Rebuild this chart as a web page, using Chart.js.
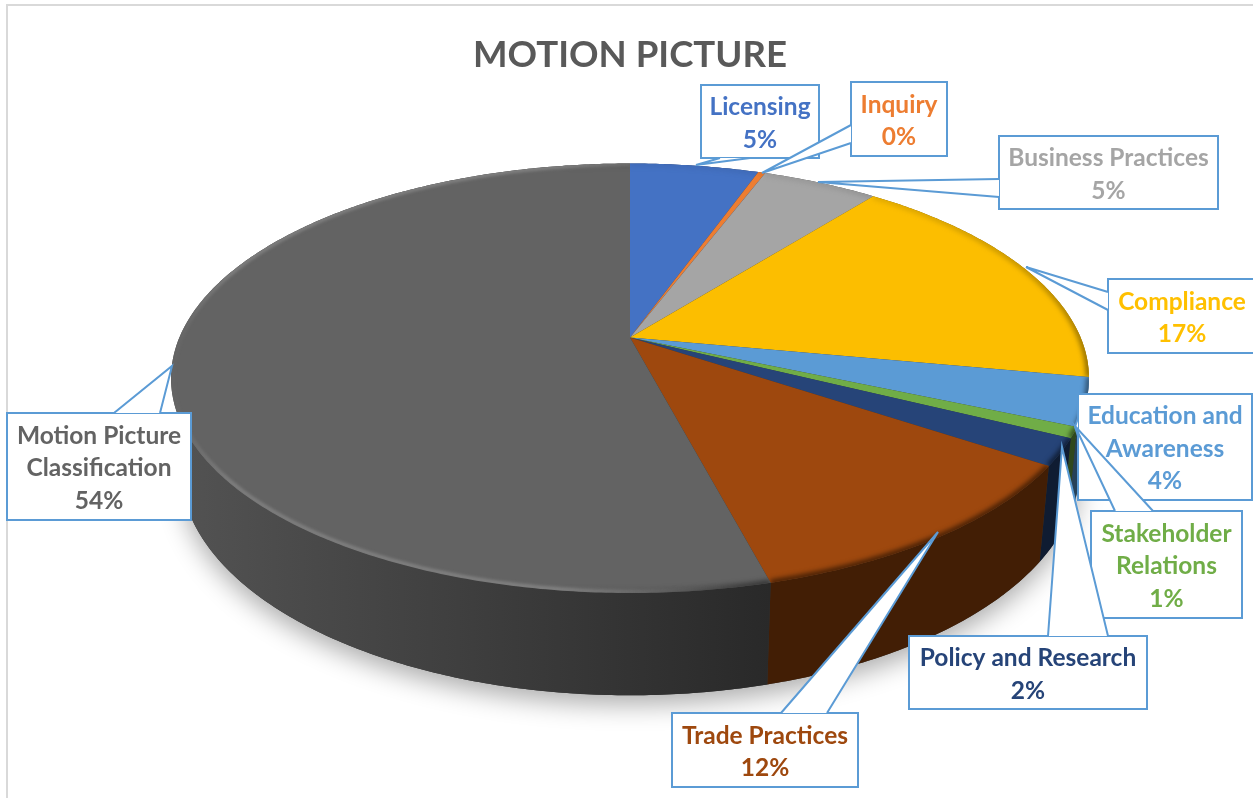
<!DOCTYPE html>
<html>
<head>
<meta charset="utf-8">
<style>
  html, body { margin: 0; padding: 0; background: #fff; overflow: hidden; }
  canvas { display: block; }
</style>
<script src="https://cdn.jsdelivr.net/npm/chart.js@4/dist/chart.umd.min.js"></script>
</head>
<body>
<canvas id="chart" width="1253" height="798"></canvas>
<script>
const categories = ['Licensing', 'Inquiry', 'Business Practices', 'Compliance',
  'Education and Awareness', 'Stakeholder Relations', 'Policy and Research',
  'Trade Practices', 'Motion Picture Classification'];
const shares = [5.45, 0.3, 4.9, 17.3, 3.6, 0.8, 2.03, 11.52, 54.1];
const sliceColors = ['#4472c4', '#ed7d31', '#a5a5a5', '#fcbe00', '#5b9bd5',
  '#70ad47', '#264478', '#9e480e', '#636363'];
const textColors = ['#4472c4', '#ed7d31', '#a5a5a5', '#ffc000', '#5b9bd5',
  '#70ad47', '#264478', '#9e480e', '#636363'];

// callout boxes: l, t, r, b, then the tip and the two wedge base points
const callouts = [
  [701, 85, 819, 158, [696, 165], [720, 158], [750, 158]],
  [851, 82, 947, 156, [762, 173], [851, 125], [851, 143]],
  [999, 136, 1218, 209, [818, 182], [999, 179], [999, 197]],
  [1108, 279, 1256, 353, [1026, 267], [1108, 292], [1108, 310]],
  [1078, 394, 1252, 500, [1075, 427], [1078, 418], [1078, 436]],
  [1091, 511, 1242, 618, [1075, 426], [1115, 511], [1153, 511]],
  [909, 636, 1147, 709, [1062, 447], [1048, 636], [1108, 636]],
  [672, 713, 858, 787, [938, 532], [781, 713], [827, 713]],
  [7, 413, 191, 520, [172, 366], [114, 413], [160, 413]],
];

// perspective of the disc
const RX = 450.6, RY = 207, TILT = -0.19, DROP = 90, SHRINK = 0.02;

function project(arc, a, z, s) {
  const u = Math.cos(a) * s, v = Math.sin(a) * s;
  const w = 1 + TILT * v + SHRINK * z;
  return [arc.x + RX * u / w, arc.y + (RY * v + DROP * z) / w];
}

function rimPoints(arc, a0, a1, z, s) {
  const n = Math.max(2, Math.ceil((a1 - a0) / 0.01));
  const pts = [];
  for (let i = 0; i <= n; i++) pts.push(project(arc, a0 + (a1 - a0) * i / n, z, s));
  return pts;
}

function trace(ctx, pts, start) {
  pts.forEach((p, i) => (i === 0 && start ? ctx.moveTo(p[0], p[1]) : ctx.lineTo(p[0], p[1])));
}

function shade(hex, f, alpha) {
  const n = parseInt(hex.slice(1), 16);
  return `rgba(${(n >> 16) * f | 0},${((n >> 8) & 255) * f | 0},${(n & 255) * f | 0},${alpha === undefined ? 1 : alpha})`;
}

class Arc3D extends Chart.ArcElement {
  static id = 'arc3d';
  draw(ctx) {
    const color = this.options.backgroundColor;
    const big = this.endAngle - this.startAngle > Math.PI;
    const rim = rimPoints(this, this.startAngle, this.endAngle, 0, 1);
    ctx.save();
    ctx.beginPath();
    ctx.moveTo(this.x, this.y);
    trace(ctx, rim, false);
    ctx.closePath();
    ctx.fillStyle = color;
    ctx.fill();
    ctx.clip();

    // soft bevel along the rim, stronger towards the front
    let dark;
    if (big) {
      dark = ctx.createLinearGradient(560, 0, 770, 0);
      dark.addColorStop(0, shade(color, 0.5, 0));
      dark.addColorStop(1, shade(color, 0.5, 1));
    } else {
      dark = ctx.createLinearGradient(0, 165, 0, 420);
      dark.addColorStop(0, shade(color, 0.6, 0.15));
      dark.addColorStop(1, shade(color, 0.42, 1));
    }
    ctx.filter = 'blur(2.5px)';
    ctx.strokeStyle = dark;
    ctx.lineWidth = 6;
    ctx.beginPath();
    trace(ctx, rim, true);
    ctx.stroke();

    if (big) {
      const glow = ctx.createLinearGradient(170, 0, 770, 0);
      glow.addColorStop(0, 'rgba(150,150,150,0)');
      glow.addColorStop(0.1, 'rgba(150,150,150,0.55)');
      glow.addColorStop(0.65, 'rgba(150,150,150,0.6)');
      glow.addColorStop(0.95, 'rgba(150,150,150,0)');
      ctx.filter = 'blur(1.5px)';
      ctx.strokeStyle = glow;
      ctx.lineWidth = 4;
      ctx.beginPath();
      trace(ctx, rimPoints(this, this.startAngle, this.endAngle, 0, 0.996), true);
      ctx.stroke();
    }
    ctx.restore();
  }
}

class Pie3DController extends Chart.PieController {
  static id = 'pie3d';
  static defaults = { dataElementType: 'arc3d' };
}

Chart.register(Arc3D, Pie3DController);

// frame lines, then floor shadow and side wall under the slices
const frame = {
  id: 'frame',
  beforeDraw(chart) {
    const ctx = chart.ctx;
    ctx.save();
    ctx.strokeStyle = '#d9d9d9';
    ctx.lineWidth = 2;
    ctx.beginPath();
    ctx.moveTo(7, 798);
    ctx.lineTo(7, 5);
    ctx.lineTo(1253, 5);
    ctx.stroke();
    ctx.restore();
  }
};

const body = {
  id: 'body',
  beforeDatasetsDraw(chart) {
    const ctx = chart.ctx;
    const arcs = chart.getDatasetMeta(0).data;
    const a0 = arcs[0].startAngle;

    ctx.save();
    ctx.shadowColor = 'rgba(0,0,0,0.33)';
    ctx.shadowBlur = 26;
    ctx.shadowOffsetY = 9;
    ctx.fillStyle = '#333';
    ctx.beginPath();
    trace(ctx, rimPoints(arcs[0], a0, a0 + Math.PI * 2, 1, 1), true);
    ctx.closePath();
    ctx.fill();
    ctx.restore();

    arcs.forEach(arc => {
      const color = arc.options.backgroundColor;
      const wall = ctx.createLinearGradient(175, 0, 770, 0);
      wall.addColorStop(0, shade(color, 0.84));
      wall.addColorStop(1, shade(color, 0.42));
      ctx.fillStyle = wall;
      ctx.beginPath();
      trace(ctx, rimPoints(arc, arc.startAngle, arc.endAngle, 0, 1), true);
      trace(ctx, rimPoints(arc, arc.startAngle, arc.endAngle, 1, 1).reverse(), false);
      ctx.closePath();
      ctx.fill();
    });
  }
};

function wrapLabel(ctx, text, maxWidth) {
  const lines = [];
  let line = '';
  text.split(' ').forEach(word => {
    const next = line ? line + ' ' + word : word;
    if (line && ctx.measureText(next).width > maxWidth) {
      lines.push(line);
      line = word;
    } else {
      line = next;
    }
  });
  lines.push(line);
  return lines;
}

const labels = {
  id: 'labels',
  afterDatasetsDraw(chart) {
    const ctx = chart.ctx;
    const total = shares.reduce((a, b) => a + b, 0);
    ctx.save();
    ctx.lineJoin = 'miter';
    categories.forEach((name, i) => {
      const [l, t, r, b, tip, p, q] = callouts[i];
      ctx.fillStyle = '#fff';
      ctx.strokeStyle = '#5b9bd5';
      ctx.lineWidth = 2;
      ctx.fillRect(l, t, r - l, b - t);
      ctx.strokeRect(l, t, r - l, b - t);
      ctx.beginPath();
      ctx.moveTo(p[0], p[1]);
      ctx.lineTo(tip[0], tip[1]);
      ctx.lineTo(q[0], q[1]);
      ctx.closePath();
      ctx.fill();
      ctx.beginPath();
      ctx.moveTo(p[0], p[1]);
      ctx.lineTo(tip[0], tip[1]);
      ctx.lineTo(q[0], q[1]);
      ctx.stroke();

      ctx.font = 'bold 24.5px Lato';
      ctx.textAlign = 'center';
      ctx.textBaseline = 'middle';
      ctx.fillStyle = textColors[i];
      const lines = wrapLabel(ctx, name, r - l - 8);
      lines.push(Math.round(shares[i] / total * 100) + '%');
      const mid = (t + b) / 2 + 2, step = 32.5;
      lines.forEach((text, k) => {
        ctx.fillText(text, (l + r) / 2, mid + (k - (lines.length - 1) / 2) * step);
      });
    });
    ctx.restore();
  }
};

new Chart(document.getElementById('chart'), {
  type: 'pie3d',
  data: {
    labels: categories,
    datasets: [{ data: shares, backgroundColor: sliceColors, borderWidth: 0 }]
  },
  options: {
    responsive: false,
    animation: false,
    events: [],
    layout: { padding: { left: 7, top: 0, right: 0, bottom: 200 } },
    plugins: {
      legend: { display: false },
      tooltip: { enabled: false },
      title: {
        display: true,
        text: 'MOTION PICTURE',
        color: '#595959',
        font: { family: 'Lato', size: 36.6, weight: 'bold' },
        padding: { top: 33, bottom: 0 }
      }
    }
  },
  plugins: [frame, body, labels]
});
</script>
</body>
</html>
